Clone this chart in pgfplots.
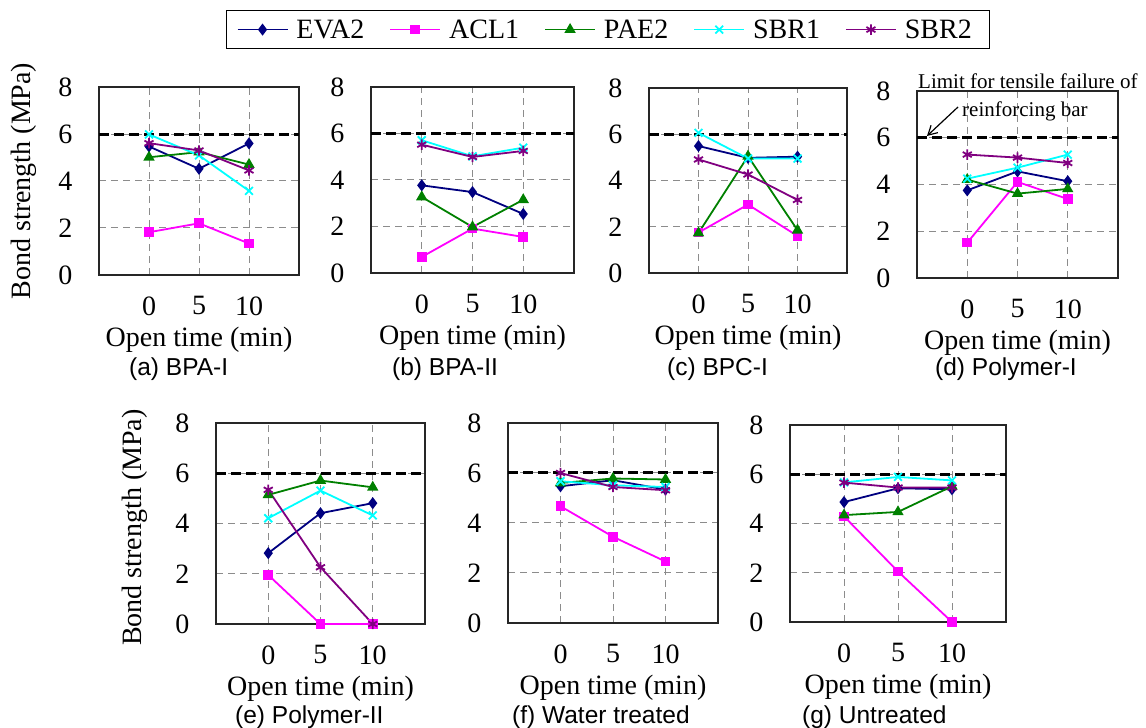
\documentclass[border=0pt]{standalone}
\usepackage{fontspec}
\setmainfont{Liberation Serif}
\setsansfont{Liberation Sans}
\usepackage{pgfplots}
\pgfplotsset{compat=1.18}
\usetikzlibrary{arrows.meta}

\definecolor{cEVA}{RGB}{0,0,128}
\definecolor{cACL}{RGB}{255,0,255}
\definecolor{cPAE}{RGB}{0,128,0}
\definecolor{cSBRa}{RGB}{0,255,255}
\definecolor{cSBRb}{RGB}{128,0,128}

\newcommand\fsz{\fontsize{28}{33}\selectfont}
\newcommand\capf{\sffamily\fontsize{24.5}{29}\selectfont}
\newcommand\ser[4]{\addplot[#1] coordinates {(1,#2) (2,#3) (3,#4)};}
\newcommand\limitline{\addplot[black, line width=3pt, dash pattern=on 10pt off 5pt, forget plot] coordinates {(0,6) (4,6)};}

\pgfplotsset{
  sub/.style={scale only axis, anchor=south west,
    xmin=0, xmax=4, ymin=0, ymax=8,
    xtick={1,2,3}, xticklabels={0,5,10}, ytick={0,2,4,6,8},
    /pgf/number format/assume math mode=true,
    grid=major,
    major grid style={draw=gray!90, line width=1pt, dash pattern=on 7pt off 5pt},
    major tick length=0pt,
    axis line style={line width=1.5pt, draw=black!85},
    tick label style={font=\fsz},
    yticklabel style={xshift=-23pt},
    xticklabel style={yshift=-18pt},
    xlabel={Open time (min)},
    xlabel style={font=\fsz, at={(axis description cs:0.5,0)}, anchor=center, yshift=-65pt},
    ylabel style={font=\fsz, anchor=center},
    clip=false,
  },
  eva/.style={cEVA, line width=1.8pt, mark=diamond*, mark size=4.6pt, mark options={solid}},
  acl/.style={cACL, line width=1.8pt, mark=square*, mark size=3.9pt, mark options={solid}},
  pae/.style={cPAE, line width=1.8pt, mark=triangle*, mark size=4.8pt, mark options={solid}},
  sbra/.style={cSBRa, line width=1.8pt, mark=x, mark size=5.5pt, mark options={solid}},
  sbrb/.style={cSBRb, line width=1.8pt, mark=asterisk, mark size=5.2pt, mark options={solid}},
}

\begin{document}
\begin{tikzpicture}
\path[use as bounding box] (0pt,0pt) rectangle (1146pt,728pt);

% (a)
\begin{axis}[sub, at={(99pt,453pt)}, width=200pt, height=188pt,
  ylabel={Bond strength (MPa)},
  ylabel style={at={(axis description cs:-0.378,0.5)}},
  legend columns=5,
  legend image code/.code={\draw[mark repeat=2,mark phase=2] plot coordinates {(0pt,0pt) (25pt,0pt) (50pt,0pt)};},
  legend style={at={(0.635,1.41)}, anchor=north west, font=\fsz, draw=black, line width=1.3pt,
    inner xsep=10pt, inner ysep=6pt, nodes={inner xsep=8pt, inner ysep=3pt},
    /tikz/every even column/.append style={column sep=17pt}},
]
\limitline
\ser{eva}{5.47}{4.52}{5.60}\addlegendentry{EVA2}
\ser{acl}{1.82}{2.20}{1.34}\addlegendentry{ACL1}
\ser{pae}{5.01}{5.23}{4.70}\addlegendentry{PAE2}
\ser{sbra}{5.98}{5.09}{3.58}\addlegendentry{SBR1}
\ser{sbrb}{5.61}{5.30}{4.45}\addlegendentry{SBR2}
\end{axis}

% (b)
\begin{axis}[sub, at={(371pt,455pt)}, width=203pt, height=186pt]
\limitline
\ser{eva}{3.77}{3.48}{2.54}
\ser{acl}{0.69}{1.91}{1.55}
\ser{pae}{3.27}{1.98}{3.15}
\ser{sbra}{5.71}{5.02}{5.39}
\ser{sbrb}{5.52}{4.99}{5.25}
\end{axis}

% (c)
\begin{axis}[sub, at={(649pt,455pt)}, width=198pt, height=185pt]
\limitline
\ser{eva}{5.49}{4.98}{5.03}
\ser{acl}{1.75}{2.96}{1.60}
\ser{pae}{1.73}{5.05}{1.85}
\ser{sbra}{6.06}{4.95}{4.95}
\ser{sbrb}{4.91}{4.26}{3.16}
\end{axis}

% (d)
\begin{axis}[sub, at={(917pt,450pt)}, width=201pt, height=187pt]
\limitline
\ser{eva}{3.75}{4.56}{4.14}
\ser{acl}{1.51}{4.11}{3.38}
\ser{pae}{4.21}{3.61}{3.81}
\ser{sbra}{4.25}{4.72}{5.28}
\ser{sbrb}{5.28}{5.15}{4.92}
\end{axis}

% (e)
\begin{axis}[sub, at={(216pt,104pt)}, width=209pt, height=201pt,
  ylabel={Bond strength (MPa)},
  ylabel style={at={(axis description cs:-0.388,0.48)}}]
\limitline
\ser{eva}{2.82}{4.41}{4.81}
\ser{acl}{1.95}{0}{0}
\ser{pae}{5.14}{5.71}{5.44}
\ser{sbra}{4.21}{5.31}{4.32}
\ser{sbrb}{5.34}{2.26}{0}
\end{axis}

% (f)
\begin{axis}[sub, at={(508pt,105pt)}, width=210pt, height=200pt]
\limitline
\ser{eva}{5.47}{5.71}{5.34}
\ser{acl}{4.67}{3.45}{2.46}
\ser{pae}{5.60}{5.78}{5.74}
\ser{sbra}{5.67}{5.51}{5.44}
\ser{sbrb}{6.00}{5.44}{5.31}
\end{axis}

% (g)
\begin{axis}[sub, at={(790pt,106pt)}, width=216pt, height=197pt]
\limitline
\ser{eva}{4.87}{5.43}{5.39}
\ser{acl}{4.29}{2.05}{0}
\ser{pae}{4.34}{4.47}{5.51}
\ser{sbra}{5.67}{5.89}{5.75}
\ser{sbrb}{5.66}{5.46}{5.46}
\end{axis}

% captions
\node[anchor=base west, inner sep=0pt, font=\capf] at (129pt,352pt) {(a) BPA-I};
\node[anchor=base west, inner sep=0pt, font=\capf] at (392pt,352pt) {(b) BPA-II};
\node[anchor=base west, inner sep=0pt, font=\capf] at (667pt,352pt) {(c) BPC-I};
\node[anchor=base west, inner sep=0pt, font=\capf] at (935pt,352pt) {(d) Polymer-I};
\node[anchor=base west, inner sep=0pt, font=\capf] at (235pt,4pt) {(e) Polymer-II};
\node[anchor=base west, inner sep=0pt, font=\capf] at (512pt,4pt) {(f) Water treated};
\node[anchor=base west, inner sep=0pt, font=\capf] at (802pt,4pt) {(g) Untreated};

% annotation
\node[anchor=base west, inner sep=0pt, font=\fontsize{21}{25}\selectfont] at (918pt,639pt) {Limit for tensile failure of};
\node[anchor=base west, inner sep=0pt, font=\fontsize{21}{25}\selectfont] at (962pt,611pt) {reinforcing bar};
\draw[line width=1.2pt, -{Straight Barb[length=9pt,width=10pt]}] (958pt,621pt) -- (927pt,592pt);
\end{tikzpicture}
\end{document}
